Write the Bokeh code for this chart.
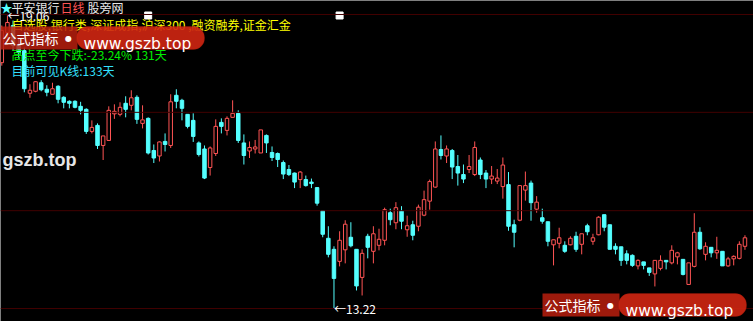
from bokeh.plotting import figure
from bokeh.models import ColumnDataSource, Range1d, Label, Span, BoxAnnotation
from bokeh.embed import file_html
from bokeh.resources import INLINE

# ---- data ----
opens = [18.12, 18.72, 18.86, 18.48, 18.36, 17.51, 17.55, 17.72, 17.59, 17.49,
         17.65, 17.43, 17.35, 17.35, 17.25, 17.19, 16.75, 16.87, 16.47, 16.57,
         17.10, 17.09, 17.31, 17.27, 17.43, 16.91, 17.01, 16.37, 16.26, 16.55,
         16.47, 17.47, 17.37, 17.09, 16.97, 16.52, 16.40, 16.03, 16.31, 16.93,
         16.77, 17.03, 17.11, 16.52, 16.36, 16.40, 16.32, 16.67, 16.33, 16.31,
         16.13, 15.99, 15.92, 15.79, 15.79, 15.74, 15.63, 15.17, 14.62, 14.40,
         14.16, 14.39, 14.64, 14.40, 13.84, 14.66, 14.36, 14.48, 14.58, 15.13,
         14.93, 15.16, 14.79, 14.89, 14.86, 15.08, 15.36, 15.64, 16.39, 16.26,
         16.37, 16.05, 15.89, 15.99, 15.89, 16.18, 15.92, 15.80, 15.76, 15.65,
         15.69, 14.89, 14.98, 15.58, 15.72, 15.20, 15.03, 14.95, 14.49, 14.52,
         14.48, 14.49, 14.66, 14.50, 14.87, 14.56, 14.69, 15.09, 14.89, 14.46,
         14.45, 14.31, 14.28, 14.07, 14.15, 14.03, 13.91, 14.02, 14.18, 14.13,
         14.25, 14.20, 13.70, 14.06, 14.74, 14.30, 14.44, 14.33, 14.36, 14.07,
         14.21, 14.22, 14.46]
highs = [18.86, 19.06, 18.96, 18.60, 18.42, 17.69, 17.75, 17.77, 17.67, 17.72,
         17.67, 17.45, 17.37, 17.37, 17.34, 17.21, 16.97, 16.91, 16.66, 17.25,
         17.29, 17.33, 17.45, 17.57, 17.47, 17.27, 17.03, 16.49, 16.55, 16.71,
         17.49, 17.59, 17.40, 17.09, 17.11, 16.55, 16.47, 16.45, 16.99, 17.01,
         17.05, 17.37, 17.17, 16.69, 16.55, 16.58, 16.78, 16.69, 16.45, 16.33,
         16.17, 16.08, 15.93, 15.96, 15.87, 15.81, 15.63, 15.17, 14.86, 14.46,
         14.76, 14.98, 14.94, 14.40, 14.40, 14.71, 14.86, 14.81, 15.23, 15.21,
         15.34, 15.26, 15.07, 14.97, 15.29, 15.57, 15.79, 16.55, 16.67, 16.47,
         16.40, 16.28, 16.09, 16.28, 16.55, 16.23, 15.98, 16.06, 16.00, 16.23,
         15.94, 14.99, 15.67, 15.95, 15.77, 15.46, 15.21, 14.95, 14.59, 14.83,
         14.56, 14.66, 14.75, 14.71, 14.91, 14.71, 15.06, 15.09, 14.89, 14.52,
         14.45, 14.38, 14.30, 14.20, 14.15, 14.03, 14.18, 14.28, 14.18, 14.48,
         14.35, 14.20, 14.13, 15.12, 14.84, 14.54, 14.44, 14.65, 14.36, 14.25,
         14.28, 14.56, 14.68]
lows = [18.06, 18.56, 18.36, 18.20, 17.53, 17.42, 17.53, 17.55, 17.45, 17.49,
        17.31, 17.21, 17.21, 17.21, 17.09, 16.70, 16.71, 16.40, 16.18, 16.56,
        17.00, 17.05, 17.03, 17.17, 16.90, 16.81, 16.29, 16.12, 16.15, 16.35,
        16.42, 17.21, 16.97, 16.81, 16.54, 16.25, 15.80, 15.87, 16.26, 16.71,
        16.67, 17.03, 16.52, 16.09, 16.22, 16.31, 16.32, 16.32, 16.16, 16.04,
        15.80, 15.86, 15.62, 15.62, 15.65, 15.62, 15.27, 14.64, 14.24, 13.22,
        14.06, 14.12, 14.44, 13.58, 13.48, 14.22, 14.12, 14.38, 14.48, 14.88,
        14.80, 14.80, 14.65, 14.58, 14.76, 15.06, 15.19, 15.63, 16.19, 16.12,
        15.80, 15.67, 15.72, 15.92, 15.86, 15.80, 15.62, 15.70, 15.70, 15.41,
        14.77, 14.44, 14.96, 15.37, 14.97, 15.13, 14.91, 14.46, 14.08, 14.42,
        14.33, 14.48, 14.35, 14.30, 14.68, 14.49, 14.68, 14.76, 14.40, 14.30,
        14.07, 14.10, 14.05, 14.00, 14.00, 13.87, 13.66, 13.98, 14.00, 14.10,
        14.10, 13.88, 13.70, 14.04, 14.39, 14.18, 14.24, 14.21, 14.07, 14.05,
        14.08, 14.20, 14.39]
closes = [18.76, 18.92, 18.46, 18.32, 17.60, 17.57, 17.74, 17.58, 17.53, 17.60,
          17.39, 17.33, 17.31, 17.23, 17.17, 16.75, 16.83, 16.47, 16.66, 17.17,
          17.15, 17.23, 17.19, 17.42, 16.99, 16.98, 16.32, 16.22, 16.54, 16.49,
          17.34, 17.35, 17.21, 16.85, 16.65, 16.29, 15.82, 16.42, 16.85, 16.85,
          17.01, 17.11, 16.57, 16.27, 16.43, 16.44, 16.78, 16.52, 16.23, 16.19,
          15.90, 15.89, 15.74, 15.94, 15.67, 15.71, 15.32, 14.70, 14.30, 13.82,
          14.58, 14.90, 14.47, 13.67, 14.32, 14.44, 14.71, 14.60, 15.19, 14.99,
          15.23, 14.96, 14.87, 14.68, 15.24, 15.39, 15.75, 16.40, 16.27, 16.40,
          16.04, 15.92, 15.80, 16.05, 16.43, 15.89, 15.80, 15.86, 15.82, 16.08,
          14.86, 14.74, 15.67, 15.67, 15.33, 15.34, 14.96, 14.56, 14.59, 14.63,
          14.36, 14.62, 14.40, 14.71, 14.75, 14.63, 15.04, 14.84, 14.40, 14.40,
          14.18, 14.18, 14.08, 14.18, 14.08, 13.94, 14.18, 14.18, 14.15, 14.38,
          14.33, 13.90, 14.13, 14.74, 14.41, 14.46, 14.33, 14.38, 14.07, 14.21,
          14.26, 14.50, 14.63]
grid_levels = [19.08, 17.13, 15.17, 13.22]
signal_idx = [26, 60]

title_parts = ["★", "平安银行", "日线", "股旁网"]
block_text = "自选股,银行类,深证成指,沪深300 ,融资融券,证金汇金"
drop_text = "高点至今下跌:-23.24% 131天"
count_text = "目前可见K线:133天"
brand_text = "gszb.top"
wm_left_text = "公式指标"
wm_right_text = "www.gszb.top"

# ---- layout helpers (pixel -> data) ----
W, H = 753, 321
PX0, STEP = 1.3, 5.63
Y_TOP, KPX = 19.359, 0.01993


def sx(px):
    return (px - PX0) / STEP


def sy(py):
    return Y_TOP - py * KPX


UP = "#ff5454"
DOWN = "#54ffff"

idx = list(range(len(opens)))
up = [c >= o for o, c in zip(opens, closes)]
src = ColumnDataSource(dict(
    x=idx, o=opens, h=highs, l=lows, c=closes,
    top=[max(o, c) for o, c in zip(opens, closes)],
    bot=[min(o, c) for o, c in zip(opens, closes)],
    col=[UP if u else DOWN for u in up],
    fill=["#000000" if u else DOWN for u in up],
))

p = figure(width=W, height=H, x_range=Range1d(sx(0), sx(W)), y_range=Range1d(sy(H), sy(0)),
           output_backend="svg", toolbar_location=None, min_border=0,
           x_axis_type=None, y_axis_type=None,
           background_fill_color="black", border_fill_color="black", outline_line_color=None)
p.grid.visible = False

for lvl in grid_levels:
    p.add_layout(Span(location=lvl, dimension="width", line_color="#420000", line_width=1))

p.segment(x0="x", y0="h", x1="x", y1="l", color="col", line_width=1, source=src)
p.vbar(x="x", width=0.62, top="top", bottom="bot", fill_color="fill", line_color="col",
       line_width=1, source=src)

hi = max(highs)
lo = min(lows)
hi_i = highs.index(hi)
lo_i = lows.index(lo)

p.scatter(x=signal_idx, y=[hi] * len(signal_idx), marker="square", size=7,
          color="white")

CJK = "Noto Sans CJK SC"
p.add_layout(Label(x=hi_i, y=hi, text="←" + f"{hi:.2f}", text_font=CJK, text_font_size="12px",
                   text_color="white", text_baseline="middle", text_align="left"))
p.add_layout(Label(x=lo_i, y=lo, text="←" + f"{lo:.2f}", text_font=CJK, text_font_size="12px",
                   text_color="white", text_baseline="middle", text_align="left"))

# title
for txt, px, colr in zip(title_parts, [0, 11, 60, 87], [DOWN, "#e8e8e8", "#ff5555", "#e8e8e8"]):
    p.add_layout(Label(x=sx(px), y=sy(7), text=txt, text_font=CJK, text_font_size="12px",
                       text_color=colr, text_baseline="middle", text_align="left"))

p.add_layout(Label(x=sx(11), y=sy(24), text=block_text, text_font=CJK, text_font_size="12px",
                   text_color="#ffff00", text_baseline="middle"))
p.add_layout(Label(x=sx(11), y=sy(54), text=drop_text, text_font=CJK, text_font_size="12px",
                   text_color="#00ee00", text_baseline="middle"))
p.add_layout(Label(x=sx(11), y=sy(70), text=count_text, text_font=CJK, text_font_size="12px",
                   text_color="#33e0ff", text_baseline="middle"))

p.add_layout(Label(x=sx(2), y=sy(159), text=brand_text, text_font="Liberation Sans",
                   text_font_style="bold", text_font_size="18px", text_color="#e6e6e6",
                   text_baseline="alphabetic"))


def watermark(left, top):
    p.add_layout(BoxAnnotation(left=sx(left), right=sx(left + 77), top=sy(top), bottom=sy(top + 23),
                               fill_color="#b81e0e", fill_alpha=0.85, line_color=None))
    p.add_layout(BoxAnnotation(left=sx(left + 76), right=sx(left + 204), top=sy(top), bottom=sy(top + 23),
                               fill_color="#d02612", fill_alpha=0.9, line_color="#a01808",
                               line_width=1, border_radius=11))
    p.add_layout(Label(x=sx(left + 2), y=sy(top + 11.5), text=wm_left_text, text_font=CJK,
                       text_font_size="14px", text_color="white", text_baseline="middle"))
    p.add_layout(Label(x=sx(left + 68), y=sy(top + 11.5), text="●", text_font="DejaVu Sans",
                       text_font_size="8px", text_color="white", text_baseline="middle",
                       text_align="center"))
    p.add_layout(Label(x=sx(left + 83), y=sy(top + 17), text=wm_right_text, text_font="DejaVu Sans",
                       text_font_size="15.5px", text_color="white", text_baseline="alphabetic"))


watermark(0, 26)
watermark(542, 293)

open("out.html", "w").write(file_html(p, INLINE))
